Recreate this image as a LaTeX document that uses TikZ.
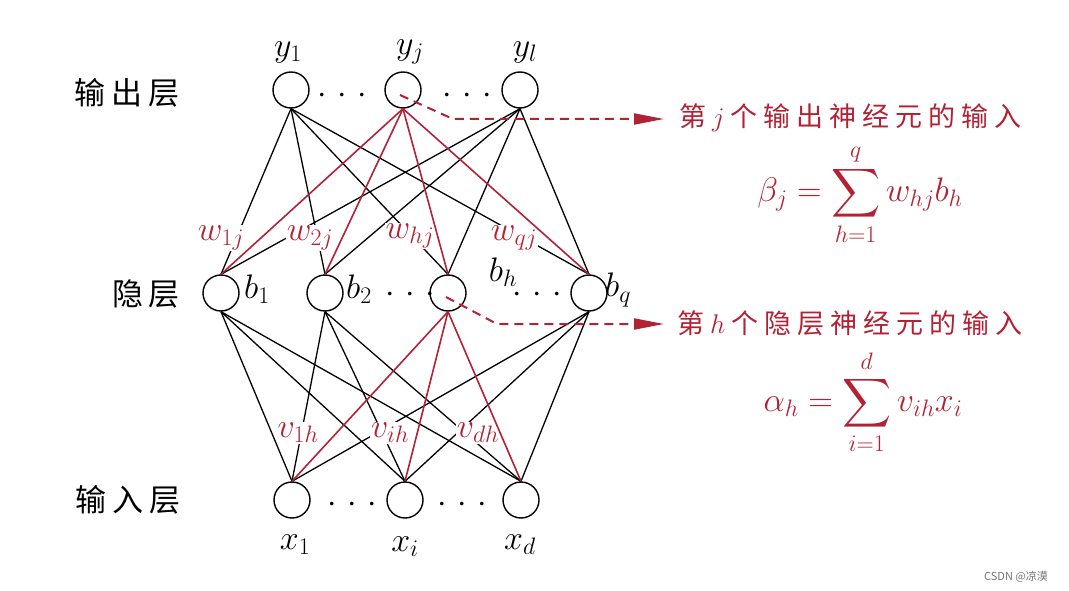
\RequirePackage{fix-cm}
\documentclass[tikz,border=0pt]{standalone}
\usepackage{fontspec}
\DeclareFontShape{OMX}{cmex}{m}{n}{<->cmex10}{}
\newfontfamily\cjk{Noto Sans CJK SC}
\usetikzlibrary{arrows.meta}
\definecolor{myred}{RGB}{178,34,52}
\newcommand{\gp}{\hspace{6pt}}
\newcommand{\lgp}{\hspace{6pt}}
\newcommand{\mydots}{$\cdotp\mkern2.5mu\cdotp\mkern2.5mu\cdotp$}
\begin{document}
\begin{tikzpicture}[x=1pt,y=-1pt,
  neuron/.style={circle,draw,line width=1.4pt,minimum size=36pt,inner sep=0pt,fill=white},
  conn/.style={line width=1.3pt},
  rconn/.style={line width=1.6pt,color=myred},
  mlab/.style={font=\fontsize{34}{40}\selectfont,inner sep=0pt},
  wlab/.style={font=\fontsize{34}{40}\selectfont,inner sep=1pt,text=myred,fill=white},
  dotlab/.style={font=\fontsize{34}{40}\selectfont,inner sep=0pt,anchor=base},
  layerlab/.style={font=\fontsize{31}{34}\selectfont\cjk,inner sep=0pt},
  rtext/.style={font=\fontsize{27}{30}\selectfont\cjk,text=myred,inner sep=0pt,anchor=west},
  formula/.style={font=\fontsize{34}{40}\selectfont,text=myred,inner sep=0pt},
  dasharrow/.style={myred,line width=2pt,dash pattern=on 9pt off 6pt,-{Triangle[length=30pt,width=11pt]}},
  wmark/.style={font=\fontsize{11}{13}\selectfont\cjk,text=black!55,inner sep=0pt}
]
\useasboundingbox (0,0) rectangle (1069,591);

% neurons
\node[neuron] (y1) at (291,90) {};
\node[neuron] (yj) at (403,90) {};
\node[neuron] (yl) at (520,90) {};
\node[neuron] (b1) at (221,293) {};
\node[neuron] (b2) at (325,293) {};
\node[neuron] (bh) at (448,293) {};
\node[neuron] (bq) at (589,293) {};
\node[neuron] (x1) at (292,500) {};
\node[neuron] (xi) at (405,500) {};
\node[neuron] (xd) at (521,500) {};

% black connections
\foreach \o in {y1,yl} \foreach \h in {b1,b2,bh,bq} \draw[conn] (\o.south) -- (\h.north);
\foreach \h in {b1,b2,bq} \foreach \i in {x1,xi,xd} \draw[conn] (\h.south) -- (\i.north);

% weight labels
\node[wlab] (w1j) at (221,238) {$w_{1j}$};
\node[wlab] (w2j) at (310,238) {$w_{2j}$};
\node[wlab] (whj) at (410,236) {$w_{hj}$};
\node[wlab] (wqj) at (514,238) {$w_{qj}$};
\node[wlab] (v1h) at (298,433) {$v_{1h}$};
\node[wlab] (vih) at (390,433) {$v_{ih}$};
\node[wlab] (vdh) at (478,433) {$v_{dh}$};

% red connections
\foreach \h in {b1,b2,bh,bq} \draw[rconn] (yj.south) -- (\h.north);
\foreach \i in {x1,xi,xd} \draw[rconn] (bh.south) -- (\i.north);

% neuron labels
\node[mlab] (ly1) at (288,52) {$y_1$};
\node[mlab] (lyj) at (410,52) {$y_j$};
\node[mlab] (lyl) at (525,52) {$y_l$};
\node[mlab] (lb1) at (257,289) {$b_1$};
\node[mlab] (lb2) at (359,289) {$b_2$};
\node[mlab] (lbh) at (503,272) {$b_h$};
\node[mlab,anchor=west] (lbq) at (605,290) {$b_q$};
\node[mlab] (lx1) at (295,545) {$x_1$};
\node[mlab] (lxi) at (405,547) {$x_i$};
\node[mlab] (lxd) at (520,545) {$x_d$};

% dots
\node[dotlab] (d1) at (342,104) {\mydots};
\node[dotlab] (d2) at (467,104) {\mydots};
\node[dotlab] (d3) at (410,302) {\mydots};
\node[dotlab] (d4) at (537,302) {\mydots};
\node[dotlab] (d5) at (352,512) {\mydots};
\node[dotlab] (d6) at (462,512) {\mydots};

% layer labels
\node[layerlab] (lout) at (127,93) {输\lgp 出\lgp 层};
\node[layerlab] (lhid) at (146,294) {隐\lgp 层};
\node[layerlab] (lin) at (128,500) {输\lgp 入\lgp 层};

% annotations
\coordinate (kj) at (453,119);
\coordinate (aj) at (664,119);
\draw[dasharrow] ([shift={(-3,5)}]yj.center) -- (kj) -- (aj);
\node[rtext] (tj) at (679,118) {第\gp$j$\gp 个\gp 输\gp 出\gp 神\gp 经\gp 元\gp 的\gp 输\gp 入};
\node[formula] (fj) at (860,195) {$\displaystyle \beta_j=\sum_{h=1}^{q} w_{hj}b_h$};

\coordinate (kh) at (497,324);
\coordinate (ah) at (664,324);
\draw[dasharrow] ([shift={(-2,4)}]bh.center) -- (kh) -- (ah);
\node[rtext] (th) at (677,323) {第\gp$h$\gp 个\gp 隐\gp 层\gp 神\gp 经\gp 元\gp 的\gp 输\gp 入};
\node[formula] (fh) at (863,402) {$\displaystyle \alpha_h=\sum_{i=1}^{d} v_{ih}x_i$};

\node[wmark] (wm) at (1016,577) {CSDN @凉漠};
\end{tikzpicture}
\end{document}
